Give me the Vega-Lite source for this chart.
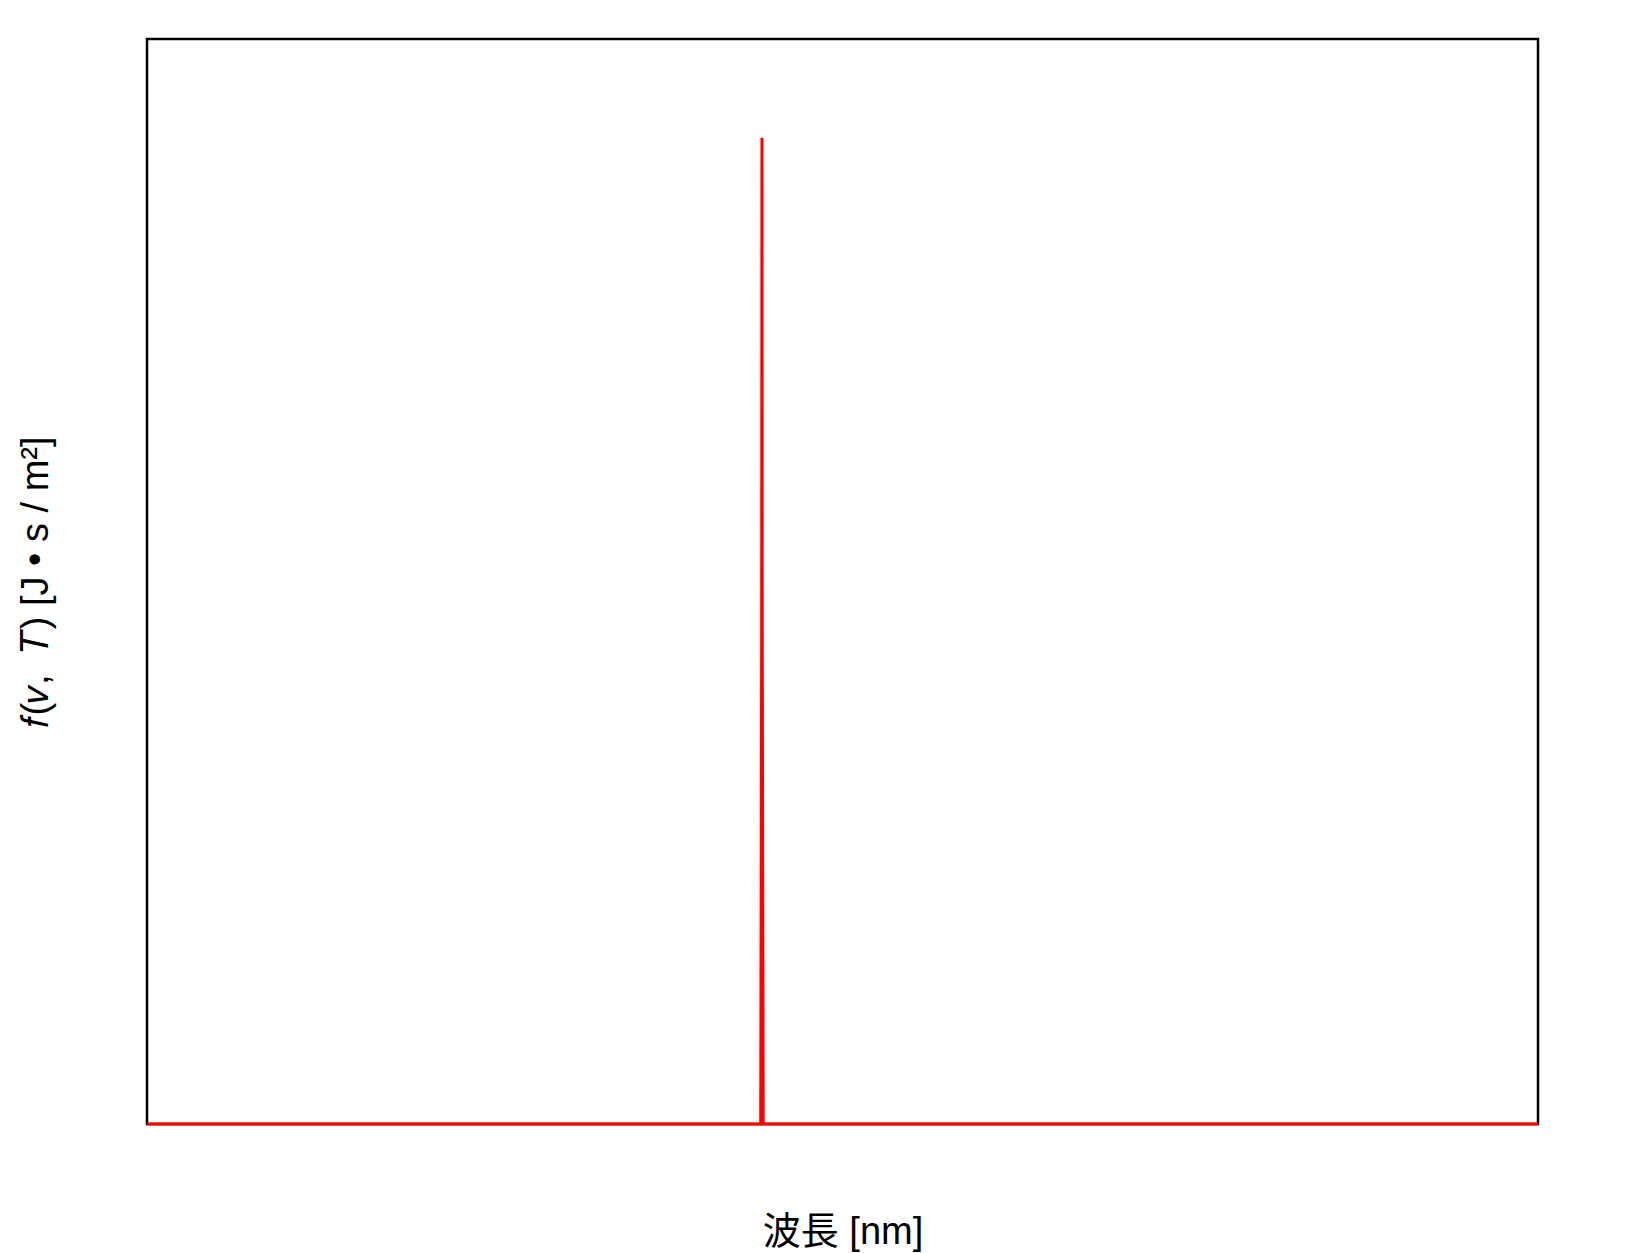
{
  "$schema": "https://vega.github.io/schema/vega-lite/v6.json",
  "autosize": "none",
  "padding": {"left": 147, "top": 39, "right": 90, "bottom": 129},
  "width": 1391,
  "height": 1085,
  "background": "white",
  "config": {
    "font": "Liberation Sans, Noto Sans CJK JP",
    "view": {"stroke": "black", "strokeWidth": 2.5},
    "axis": {
      "labels": false,
      "ticks": false,
      "grid": false,
      "domain": false,
      "titleFont": "Liberation Sans, Noto Sans CJK JP",
      "titleFontSize": 38,
      "titleFontWeight": "normal",
      "titleColor": "black"
    }
  },
  "data": {
    "values": [
      {"wavelength": 0, "f": 0},
      {"wavelength": 441.2, "f": 0},
      {"wavelength": 441.9, "f": 0.5},
      {"wavelength": 442.1, "f": 1},
      {"wavelength": 442.3, "f": 0.5},
      {"wavelength": 443.0, "f": 0},
      {"wavelength": 1000, "f": 0}
    ]
  },
  "mark": {"type": "line", "color": "#ff0000", "strokeWidth": 3},
  "encoding": {
    "x": {
      "field": "wavelength",
      "type": "quantitative",
      "scale": {"domain": [0, 1000], "nice": false, "zero": false},
      "axis": {"title": "波長 [nm]", "titlePadding": 89}
    },
    "y": {
      "field": "f",
      "type": "quantitative",
      "scale": {"domain": [0, 1.1], "nice": false},
      "axis": {"title": "𝑓(𝑣,\u00a0\u00a0𝑇) [J • s / m²]", "titlePadding": 92}
    }
  }
}
